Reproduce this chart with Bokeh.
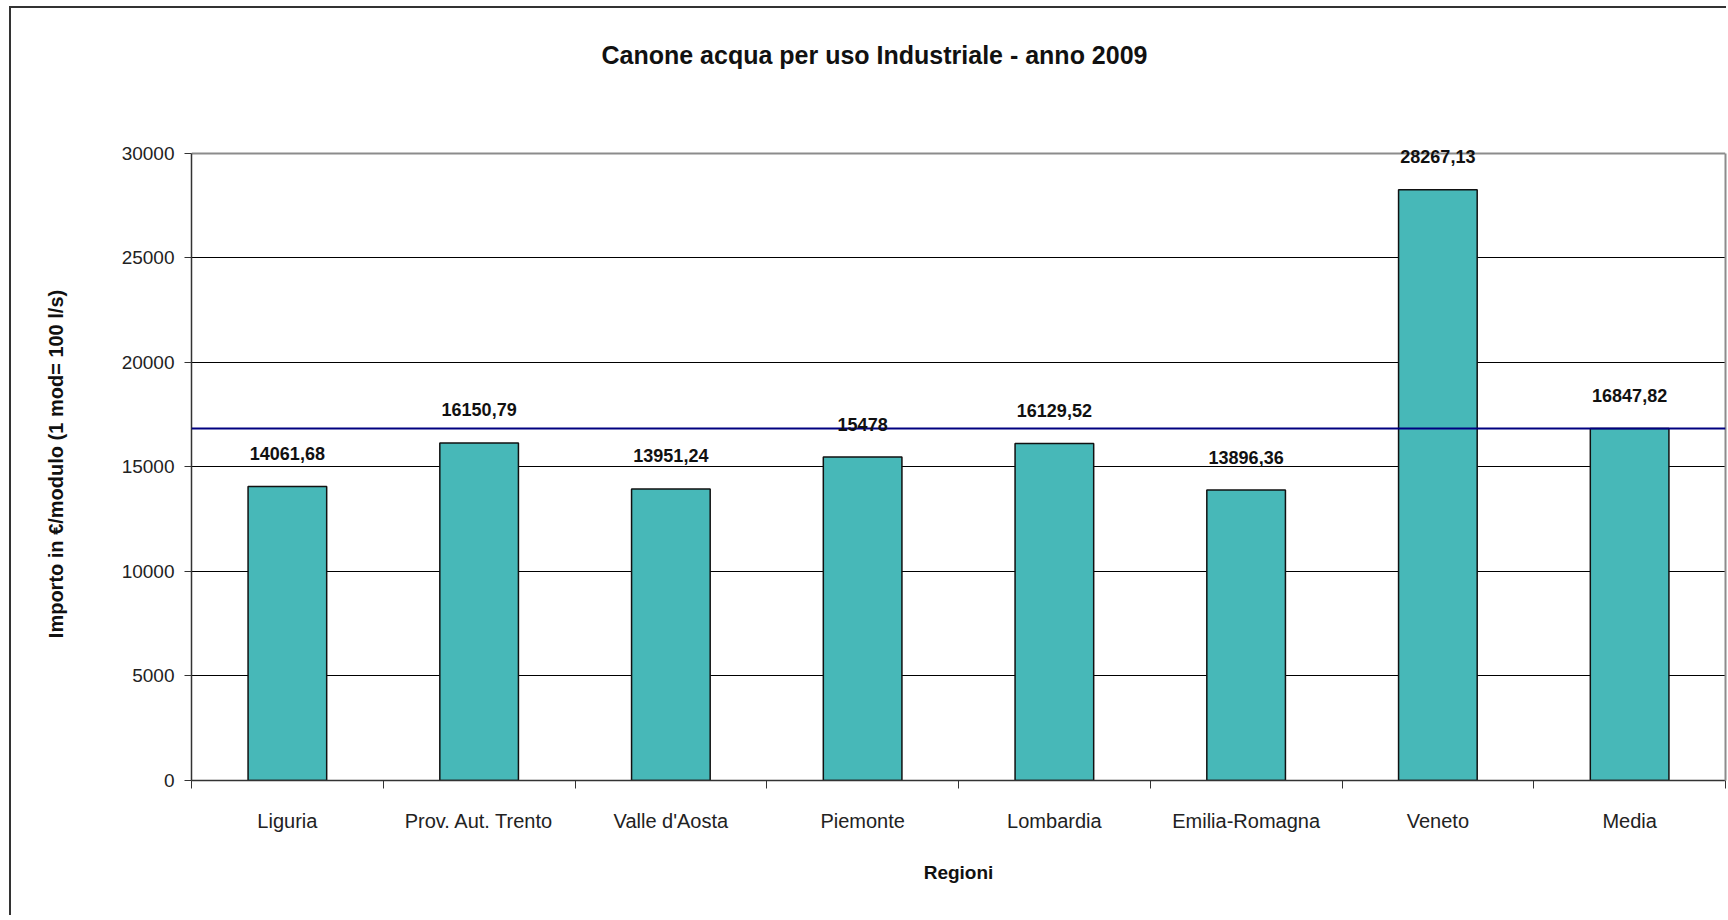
from bokeh.plotting import figure
from bokeh.models import (Range1d, FixedTicker, Span, LabelSet, ColumnDataSource, LinearAxis)
from bokeh.core.properties import value
from bokeh.embed import file_html
from bokeh.resources import INLINE

# ---- data ----
regioni = ["Liguria", "Prov. Aut. Trento", "Valle d'Aosta", "Piemonte",
           "Lombardia", "Emilia-Romagna", "Veneto", "Media"]
importi = [14061.68, 16150.79, 13951.24, 15478, 16129.52, 13896.36, 28267.13, 16847.82]
media = 16847.82
y_ticks = [0, 5000, 10000, 15000, 20000, 25000, 30000]
title_text = "Canone acqua per uso Industriale - anno 2009"
x_label = "Regioni"
y_label = "Importo in \u20ac/modulo (1 mod= 100 l/s)"

FONT = "Liberation Sans"

# ---- layout geometry (pixels inside the figure) ----
FIG_W, FIG_H = 1717, 909
PLOT_TOP = 144        # where the 30000 line sits
FRAME_TOP = 138       # frame starts a bit higher so value labels above the top line are not clipped
PLOT_BOTTOM = 772     # where 0 sits
TITLE_BAND = 90       # height of the band holding the title
y_max = y_ticks[-1]
y_end = y_max * (PLOT_BOTTOM - FRAME_TOP) / (PLOT_BOTTOM - PLOT_TOP)


def fmt(v):
    s = ("%.2f" % v).rstrip("0").rstrip(".")
    return s.replace(".", ",")


n = len(regioni)
centers = [i + 0.5 for i in range(n)]
src = ColumnDataSource(dict(x=centers, top=importi, lab=[fmt(v) for v in importi]))

p = figure(width=FIG_W, height=FIG_H, output_backend="svg", toolbar_location=None,
           x_range=Range1d(0, n), y_range=Range1d(0, y_end),
           min_border_left=180, min_border_right=3, min_border_top=FRAME_TOP,
           min_border_bottom=FIG_H - PLOT_BOTTOM,
           background_fill_color="white", border_fill_color="white",
           outline_line_color=None,
           margin=(8, 0, 0, 11),
           styles={"box-shadow": "-2px -2px 0px 0px #333333"})

xa = p.below[0]
ya = p.left[0]

# title
p.title.text = title_text
p.title.text_font = FONT
p.title.text_font_size = "25px"
p.title.text_font_style = "bold"
p.title.text_color = "#111111"
p.title.align = "left"
p.title.offset = 410
p.title.standoff = 61

# grids
p.xgrid.grid_line_color = None
p.ygrid.ticker = FixedTicker(ticks=y_ticks[1:-1])
p.ygrid.grid_line_color = "#000000"
p.ygrid.grid_line_width = 1

# top border of the plot area (gray)
p.add_layout(Span(location=y_max, dimension="width", line_color="#8c8c8c", line_width=2,
                  level="underlay"))

# bars
p.vbar(x="x", top="top", width=0.41, source=src, fill_color="#47B8B8",
       line_color="#111111", line_width=1.5)

# average line
p.add_layout(Span(location=media, dimension="width", line_color="#000080", line_width=2))

# value labels
p.add_layout(LabelSet(x="x", y="top", text="lab", source=src, y_offset=33,
                      text_align="center", text_baseline="middle",
                      text_font=value(FONT), text_font_size="18px", text_font_style="bold",
                      text_color="#111111"))

# x axis
xa.ticker = FixedTicker(ticks=centers, minor_ticks=list(range(n + 1)))
xa.major_label_overrides = {c: r for c, r in zip(centers, regioni)}
xa.major_tick_line_color = None
xa.major_tick_out = 8
xa.major_tick_in = 0
xa.minor_tick_line_color = "#333333"
xa.minor_tick_out = 8
xa.minor_tick_in = 0
xa.axis_line_color = "#333333"
xa.axis_line_width = 1.5
xa.major_label_text_font = FONT
xa.major_label_text_font_size = "20px"
xa.major_label_text_color = "#222222"
xa.major_label_standoff = 21
xa.axis_label = x_label
xa.axis_label_text_font = FONT
xa.axis_label_text_font_size = "19px"
xa.axis_label_text_font_style = "bold"
xa.axis_label_text_color = "#111111"
xa.axis_label_standoff = 27

# y axis
ya.bounds = (0, y_max)
ya.ticker = FixedTicker(ticks=y_ticks)
ya.major_tick_out = 7
ya.major_tick_in = 0
ya.major_tick_line_color = "#333333"
ya.minor_tick_line_color = None
ya.axis_line_color = "#333333"
ya.axis_line_width = 1.5
ya.major_label_text_font = FONT
ya.major_label_text_font_size = "19px"
ya.major_label_text_color = "#222222"
ya.major_label_standoff = 10
ya.axis_label = y_label
ya.axis_label_text_font = FONT
ya.axis_label_text_font_size = "20px"
ya.axis_label_text_font_style = "bold"
ya.axis_label_text_color = "#111111"
ya.axis_label_standoff = 52

# right border of the plot area (gray), as a bare axis line
ra = LinearAxis(bounds=(0, y_max), ticker=FixedTicker(ticks=[]),
                axis_line_color="#8c8c8c", axis_line_width=2,
                major_tick_line_color=None, minor_tick_line_color=None,
                major_tick_out=0, major_tick_in=0, minor_tick_out=0, minor_tick_in=0,
                major_label_standoff=0, major_label_text_font_size="0px")
p.add_layout(ra, "right")

# invisible spacer between the frame and the title band (one hidden tick so it takes room)
spacer = LinearAxis(ticker=FixedTicker(ticks=[0]), axis_line_color=None,
                    major_tick_line_color=None, minor_tick_line_color=None,
                    major_tick_out=FRAME_TOP - TITLE_BAND, major_tick_in=0,
                    minor_tick_out=0, minor_tick_in=0,
                    major_label_overrides={0: ""},
                    major_label_standoff=0, major_label_text_font_size="0px")
p.add_layout(spacer, "above")

open("out.html", "w").write(file_html(p, INLINE))
